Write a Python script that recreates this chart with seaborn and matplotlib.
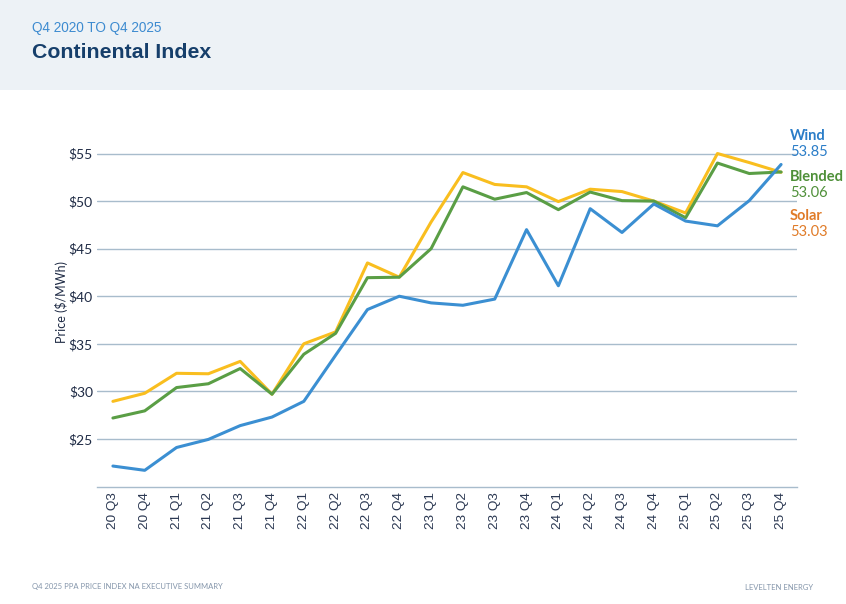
import pandas as pd
import numpy as np
import matplotlib
matplotlib.use("Agg")
import matplotlib.pyplot as plt
import seaborn as sns

# ------------------------------------------------------------
# data
quarters = ["20 Q3", "20 Q4",
            "21 Q1", "21 Q2", "21 Q3", "21 Q4",
            "22 Q1", "22 Q2", "22 Q3", "22 Q4",
            "23 Q1", "23 Q2", "23 Q3", "23 Q4",
            "24 Q1", "24 Q2", "24 Q3", "24 Q4",
            "25 Q1", "25 Q2", "25 Q3", "25 Q4"]

solar = [28.95, 29.8, 31.9, 31.85, 33.15, 29.7,
         35.0, 36.25, 43.5, 42.0,
         47.8, 53.0, 51.75, 51.5,
         49.95, 51.25, 51.0, 50.0,
         48.75, 55.0, 54.05, 53.03]

blended = [27.2, 27.95, 30.4, 30.8, 32.4, 29.7,
           33.9, 36.1, 41.95, 42.0,
           45.0, 51.5, 50.2, 50.9,
           49.1, 50.95, 50.05, 50.0,
           48.25, 54.0, 52.9, 53.06]

wind = [22.15, 21.7, 24.1, 24.95, 26.4, 27.3,
        28.95, 33.8, 38.6, 40.0,
        39.3, 39.05, 39.7, 47.0,
        41.1, 49.2, 46.7, 49.7,
        47.9, 47.4, 50.05, 53.85]

series_names = ["Solar", "Blended", "Wind"]
colors = {"Solar": "#f9be1f", "Blended": "#5a9e45", "Wind": "#3b8fd2"}
label_colors = {"Wind": "#2b7dc8", "Blended": "#4f9039", "Solar": "#e07b28"}

# long form frame for seaborn
df = pd.DataFrame({
    "quarter": quarters * 3,
    "price": solar + blended + wind,
    "series": ["Solar"] * len(quarters) + ["Blended"] * len(quarters) + ["Wind"] * len(quarters),
})
df["pos"] = np.tile(np.arange(len(quarters)), 3)

# ------------------------------------------------------------
sns.set_style("white")
plt.rcParams["font.family"] = ["Lato", "DejaVu Sans"]

fig = plt.figure(figsize=(8.46, 6.04), dpi=100)
fig.patch.set_facecolor("white")

# header band
fig.patches.append(plt.Rectangle((0, 1 - 90 / 604), 1, 90 / 604, transform=fig.transFigure,
                                 facecolor="#edf2f6", edgecolor="none", zorder=0))
fig.text(32 / 846, 1 - 28 / 604, "Q4 2020 TO Q4 2025", color="#3d8bd0", fontsize=9.8,
         family=["Liberation Sans", "DejaVu Sans"], va="center", ha="left")
fig.text(32 / 846, 1 - 53 / 604, "Continental Index", color="#163f6b", fontsize=15.3,
         family=["Liberation Sans", "DejaVu Sans"], weight="bold", va="center", ha="left")

ax = fig.add_axes([97 / 846, 1 - 486.5 / 604, 700 / 846, (486.5 - 134.5) / 604])

sns.lineplot(data=df, x="pos", y="price", hue="series", hue_order=series_names,
             palette=colors, linewidth=2.2, ax=ax, legend=False, sort=False)

ax.set_xlim(-0.5, len(quarters) - 0.5)
ax.set_ylim(20, 57)
ax.set_yticks([25, 30, 35, 40, 45, 50, 55])
ax.set_yticklabels(["$%d" % v for v in [25, 30, 35, 40, 45, 50, 55]],
                   fontsize=10, color="#1f2b45")
ax.yaxis.grid(True, color="#a8bccc", linewidth=1)
ax.set_axisbelow(True)

ax.set_xticks(np.arange(len(quarters)))
ax.set_xticklabels(quarters, rotation=90, fontsize=9.7, color="#2b3852",
                   family=["Liberation Sans", "DejaVu Sans"])
ax.set_xticks(np.arange(len(quarters) + 1) - 0.5, minor=True)
ax.tick_params(axis="x", which="major", length=0, pad=4)
ax.tick_params(axis="x", which="minor", length=5, color="#a8bccc", width=1, direction="out")
ax.tick_params(axis="y", length=0, pad=3)

for s in ["top", "right", "left"]:
    ax.spines[s].set_visible(False)
ax.spines["bottom"].set_color("#a8bccc")
ax.spines["bottom"].set_linewidth(1)

ax.set_xlabel("")
ax.set_ylabel("Price ($/MWh)", fontsize=9, color="#1f2b45")
ax.yaxis.set_label_coords((68 - 97) / 700, (486.5 - 302) / 352)

# end labels on the right
end_vals = {"Wind": wind[-1], "Blended": blended[-1], "Solar": solar[-1]}
label_y = {"Wind": 136, "Blended": 177, "Solar": 216}
for name in ["Wind", "Blended", "Solar"]:
    y0 = 1 - label_y[name] / 604
    fig.text(790 / 846, y0, name, color=label_colors[name], fontsize=10.5, weight="bold",
             va="center", ha="left")
    fig.text(790 / 846, y0 - 16 / 604, "%.2f" % end_vals[name], color=label_colors[name],
             fontsize=10.5, va="center", ha="left")

# footer
fig.text(32 / 846, 1 - 587 / 604, "Q4 2025 PPA PRICE INDEX NA EXECUTIVE SUMMARY",
         color="#8596ab", fontsize=5.5, va="center", ha="left")
fig.text(813 / 846, 1 - 587 / 604, "LEVELTEN ENERGY",
         color="#8596ab", fontsize=5.5, va="center", ha="right")

fig.savefig("out.png", dpi=100)
